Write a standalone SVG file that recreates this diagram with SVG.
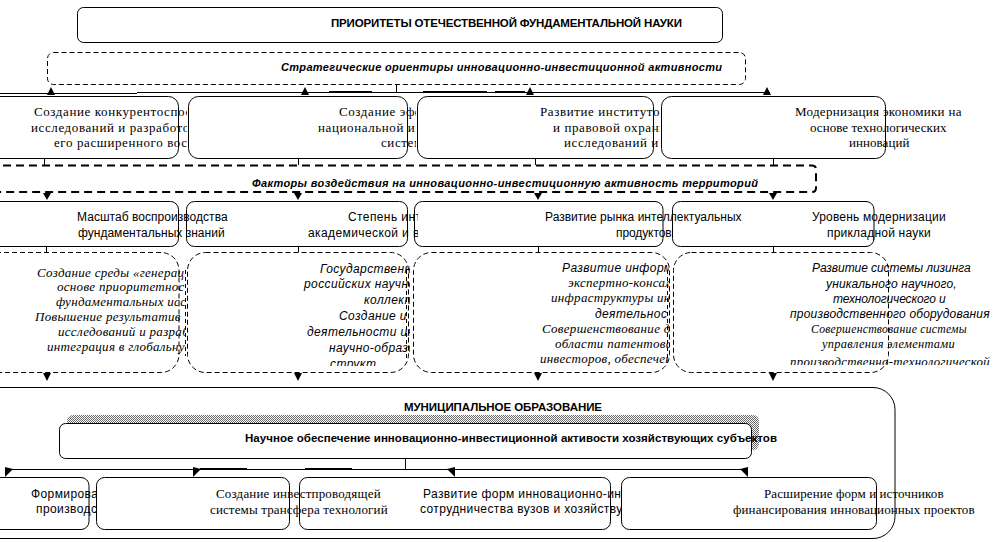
<svg xmlns="http://www.w3.org/2000/svg" width="1007" height="542" viewBox="0 0 1007 542">
<style>
.box{fill:#fff;stroke:#000;stroke-width:1}
.dbox{fill:#fff;stroke:#000;stroke-width:1;stroke-dasharray:5,3}
.tband{fill:#fff;stroke:#000;stroke-width:2;stroke-dasharray:8,5}
.ln{stroke:#000;stroke-width:1;fill:none}
.thk{stroke:#000;stroke-width:2;fill:none}
.dln{stroke:#000;stroke-width:1;stroke-dasharray:4,3;fill:none}
.ah{fill:#000}
.hd{font-family:"Liberation Sans",Arial,sans-serif;font-weight:bold;font-size:11.5px;fill:#000}
.hi{font-family:"Liberation Sans",Arial,sans-serif;font-weight:bold;font-style:italic;font-size:11px;fill:#000}
.r1{font-family:"Liberation Serif","Times New Roman",serif;font-size:13px;letter-spacing:0.6px;fill:#000}
.r2{font-family:"Liberation Sans",Arial,sans-serif;font-size:12px;letter-spacing:0.4px;fill:#000}
.si{font-family:"Liberation Serif","Times New Roman",serif;font-style:italic;font-size:13px;letter-spacing:0.3px;fill:#000}
.ai{font-family:"Liberation Sans",Arial,sans-serif;font-style:italic;font-size:12px;letter-spacing:0.4px;fill:#000}
.bs{font-family:"Liberation Sans",Arial,sans-serif;font-size:12px;letter-spacing:0.4px;fill:#000}
.bf{font-family:"Liberation Serif","Times New Roman",serif;font-size:13px;letter-spacing:0.4px;fill:#000}
</style>
<defs>
<pattern id="hatch" width="2" height="2" patternUnits="userSpaceOnUse">
<rect width="2" height="2" fill="#fff"/>
<rect x="0" y="0" width="1" height="1" fill="#666"/>
<rect x="1" y="1" width="1" height="1" fill="#666"/>
</pattern>
<clipPath id="cA"><rect x="0" y="96" width="187" height="62"/></clipPath>
<clipPath id="cB"><rect x="188" y="96" width="228" height="62"/></clipPath>
<clipPath id="cC"><rect x="417" y="96" width="243" height="62"/></clipPath>
<clipPath id="cF"><rect x="186" y="201" width="232" height="45"/></clipPath>
<clipPath id="cI"><rect x="0" y="252" width="185" height="120"/></clipPath>
<clipPath id="cJ"><rect x="187" y="252" width="223" height="114"/></clipPath>
<clipPath id="cK"><rect x="413" y="252" width="256" height="120"/></clipPath>
<clipPath id="cL"><rect x="673" y="252" width="334" height="113"/></clipPath>
<clipPath id="cM"><rect x="0" y="477" width="96" height="52"/></clipPath>
<clipPath id="cO"><rect x="299" y="477" width="322" height="52"/></clipPath>
</defs>
<rect width="1007" height="542" fill="#fff"/>

<g id="priorities">
<rect class="box" x="77.5" y="7.5" width="645" height="35" rx="6"/>
<text class="hd" x="331" y="27" textLength="351">ПРИОРИТЕТЫ ОТЕЧЕСТВЕННОЙ ФУНДАМЕНТАЛЬНОЙ НАУКИ</text>
</g>

<g id="strategic">
<rect class="dbox" x="47.5" y="52.5" width="698" height="32" rx="6"/>
<text class="hi" x="281" y="71" textLength="441">Стратегические ориентиры инновационно-инвестиционной активности</text>
</g>

<g id="connectors">
<line class="ln" x1="396.5" y1="84" x2="396.5" y2="92"/>
<line class="ln" x1="0" y1="93.5" x2="137" y2="93.5"/>
<line class="ln" x1="137" y1="92.5" x2="770" y2="92.5"/>
<line class="thk" x1="329" y1="92" x2="372" y2="92"/>
<line class="thk" x1="423" y1="92" x2="487" y2="92"/>
<line class="thk" x1="495" y1="92" x2="525" y2="92"/>
<polygon class="ah" points="47,95 51,87 55,95"/>
<polygon class="ah" points="301,95 305,87 309,95"/>
<polygon class="ah" points="526,95 530,87 534,95"/>
<polygon class="ah" points="763,95 767,87 771,95"/>
<line class="ln" x1="44.5" y1="158" x2="44.5" y2="165"/>
<line class="ln" x1="298.5" y1="158" x2="298.5" y2="165"/>
<line class="ln" x1="535.5" y1="158" x2="535.5" y2="165"/>
<line class="ln" x1="773.5" y1="158" x2="773.5" y2="165"/>
<polygon class="ah" points="43,193 51,193 47,200"/>
<polygon class="ah" points="294,193 302,193 298,200"/>
<polygon class="ah" points="534,193 542,193 538,200"/>
<polygon class="ah" points="769,193 777,193 773,200"/>
<line class="ln" x1="46.5" y1="246" x2="46.5" y2="252"/>
<line class="ln" x1="298.5" y1="246" x2="298.5" y2="252"/>
<line class="ln" x1="538.5" y1="246" x2="538.5" y2="252"/>
<line class="ln" x1="773.5" y1="246" x2="773.5" y2="252"/>
<polygon class="ah" points="43,373 51,373 47,381"/>
<polygon class="ah" points="294,373 302,373 298,381"/>
<polygon class="ah" points="534,373 542,373 538,381"/>
<polygon class="ah" points="769,373 777,373 773,381"/>
</g>

<g id="row1-a">
<rect class="box" x="-20" y="96.5" width="198.5" height="62" rx="10"/>
<g clip-path="url(#cA)">
<text class="r1" x="34" y="116">Создание конкурентоспосо</text>
<text class="r1" x="31" y="132">исследований и разработок</text>
<text class="r1" x="54" y="147">его расширенного воспр</text>
</g>
</g>
<g id="row1-b">
<rect class="box" x="188.5" y="96.5" width="219" height="62" rx="10"/>
<g clip-path="url(#cB)">
<text class="r1" x="339" y="116">Создание эфф</text>
<text class="r1" x="318" y="132">национальной ин</text>
<text class="r1" x="381" y="147">систем</text>
</g>
</g>
<g id="row1-c">
<rect class="box" x="417.5" y="96.5" width="236" height="62" rx="10"/>
<g clip-path="url(#cC)">
<text class="r1" x="540" y="116">Развитие институтов</text>
<text class="r1" x="553" y="132">и правовой охраны</text>
<text class="r1" x="564" y="147">исследований и р</text>
</g>
</g>
<g id="row1-d">
<rect class="box" x="661.5" y="96.5" width="224" height="62" rx="10"/>
<text class="r1" x="795" y="116" textLength="167">Модернизация экономики на</text>
<text class="r1" x="810" y="132" textLength="137">основе технологических</text>
<text class="r1" x="849" y="147" textLength="61">инноваций</text>
</g>

<g id="factors">
<path class="tband" d="M-10,165.5 H812 Q816,165.5 816,169.5 V188 Q816,192 812,192 H-10"/>
<text class="hi" x="252" y="187" textLength="506">Факторы воздействия на инновационно-инвестиционную активность территорий</text>
</g>

<g id="row2-e">
<rect class="box" x="-20" y="201.5" width="198.5" height="45" rx="8"/>
</g>
<g id="row2-f">
<rect class="box" x="186.5" y="201.5" width="221" height="45" rx="8"/>
</g>
<g id="row2-g">
<rect class="box" x="414.5" y="201.5" width="248.5" height="45" rx="8"/>
</g>
<g id="row2-h">
<rect class="box" x="672.5" y="201.5" width="201.5" height="45" rx="8"/>
</g>
<g id="row2-text">
<text class="r2" x="77" y="221" textLength="151">Масштаб воспроизводства</text>
<text class="r2" x="78" y="237" textLength="147">фундаментальных знаний</text>
<g clip-path="url(#cF)">
<text class="r2" x="348" y="221">Степень инт</text>
<text class="r2" x="308" y="237">академической и в</text>
</g>
<text class="r2" x="545" y="221" textLength="197">Развитие рынка интеллектуальных</text>
<text class="r2" x="616" y="237" textLength="56">продуктов</text>
<text class="r2" x="812" y="221" textLength="134">Уровень модернизации</text>
<text class="r2" x="827" y="237" textLength="104">прикладной науки</text>
</g>

<g id="row3-i">
<rect class="dbox" x="-30" y="252.5" width="209" height="120" rx="18"/>
<line class="dln" x1="185.5" y1="270" x2="185.5" y2="356"/>
<g clip-path="url(#cI)">
<text class="si" x="37" y="277">Создание среды «генерац</text>
<text class="si" x="57" y="291">основе приоритетнос</text>
<text class="si" x="56" y="306">фундаментальных исс</text>
<text class="si" x="35" y="321">Повышение результатив</text>
<text class="si" x="58" y="336">исследований и разраб</text>
<text class="si" x="47" y="351">интеграция в глобальну</text>
</g>
</g>
<g id="row3-j">
<rect class="dbox" x="187.5" y="252.5" width="221" height="120" rx="18"/>
<line class="dln" x1="406.5" y1="270" x2="406.5" y2="360"/>
<g clip-path="url(#cJ)">
<text class="ai" x="320" y="273">Государственна</text>
<text class="ai" x="304" y="288">российских научно-</text>
<text class="ai" x="364" y="304">коллект</text>
<text class="ai" x="339" y="320">Создание и р</text>
<text class="ai" x="307" y="336">деятельности инн</text>
<text class="ai" x="329" y="352">научно-образо</text>
<text class="ai" x="330" y="368">структ</text>
</g>
</g>
<g id="row3-k">
<rect class="dbox" x="413.5" y="252.5" width="256" height="120" rx="18"/>
<line class="dln" x1="667.5" y1="270" x2="667.5" y2="360"/>
<g clip-path="url(#cK)">
<text class="ai" x="562" y="272">Развитие информа</text>
<text class="si" x="568" y="287">экспертно-консал</text>
<text class="si" x="551" y="302">инфраструктуры ин</text>
<text class="ai" x="595" y="318">деятельнос</text>
<text class="si" x="542" y="333">Совершенствование д</text>
<text class="si" x="555" y="348">области патентова</text>
<text class="si" x="540" y="363">инвесторов, обеспечения</text>
</g>
</g>
<g id="row3-l">
<rect class="dbox" x="673.5" y="252.5" width="215" height="120" rx="18"/>
<g clip-path="url(#cL)">
<text class="ai" x="812" y="272" textLength="159">Развитие системы лизинга</text>
<text class="ai" x="826" y="288" textLength="131">уникального научного,</text>
<text class="ai" x="833" y="303" textLength="113">технологического и</text>
<text class="ai" x="790" y="318" textLength="200">производственного оборудования</text>
<text class="si" x="811" y="333" textLength="156" lengthAdjust="spacingAndGlyphs">Совершенствование системы</text>
<text class="si" x="822" y="348" textLength="133" lengthAdjust="spacingAndGlyphs">управления элементами</text>
<text class="si" x="790" y="366" textLength="200" lengthAdjust="spacingAndGlyphs">производственно-технологической</text>
</g>
</g>

<g id="municipal">
<rect class="box" x="-30" y="387.5" width="925" height="151" rx="22"/>
<text class="hd" x="404" y="411" textLength="198">МУНИЦИПАЛЬНОЕ ОБРАЗОВАНИЕ</text>
</g>

<g id="science-support">
<rect x="67" y="415" width="692" height="35" rx="6" fill="url(#hatch)"/>
<rect class="box" x="59.5" y="423.5" width="692" height="35" rx="6"/>
<text class="hd" x="245" y="442" textLength="532">Научное обеспечение инновационно-инвестиционной активости хозяйствующих субъектов</text>
</g>

<g id="connectors-bottom">
<line class="ln" x1="405.5" y1="458" x2="405.5" y2="469"/>
<line class="ln" x1="5" y1="469.5" x2="748" y2="469.5"/>
<line class="thk" x1="200" y1="469" x2="247" y2="469"/>
<line class="thk" x1="305" y1="469" x2="352" y2="469"/>
<polygon class="ah" points="5,467 13,469 5,477"/>
<polygon class="ah" points="193,467 201,469 193,477"/>
<polygon class="ah" points="455,467 447,469 455,477"/>
<polygon class="ah" points="748,467 740,469 748,477"/>
</g>

<g id="bottom-m">
<rect class="box" x="-20" y="477.5" width="109" height="52" rx="8"/>
</g>
<g id="bottom-n">
<rect class="box" x="96.5" y="477.5" width="193" height="52" rx="8"/>
</g>
<g id="bottom-o">
<rect class="box" x="299.5" y="477.5" width="311" height="52" rx="8"/>
</g>
<g id="bottom-p">
<rect class="box" x="621.5" y="477.5" width="255" height="52" rx="8"/>
</g>
<g id="bottom-text">
<g clip-path="url(#cM)">
<text class="bs" x="31" y="498">Формирова</text>
<text class="bs" x="36" y="513">производс</text>
</g>
<text class="bf" x="216" y="498" textLength="165">Создание инвестпроводящей</text>
<text class="bf" x="210" y="514" textLength="178">системы трансфера технологий</text>
<g clip-path="url(#cO)">
<text class="bs" x="423" y="498">Развитие форм инновационно-инв</text>
<text class="bs" x="420" y="513">сотрудничества вузов и хозяйствую</text>
</g>
<text class="bf" x="764" y="498" textLength="180">Расширение форм и источников</text>
<text class="bf" x="733" y="514" textLength="242">финансирования инновационных проектов</text>
</g>
</svg>
